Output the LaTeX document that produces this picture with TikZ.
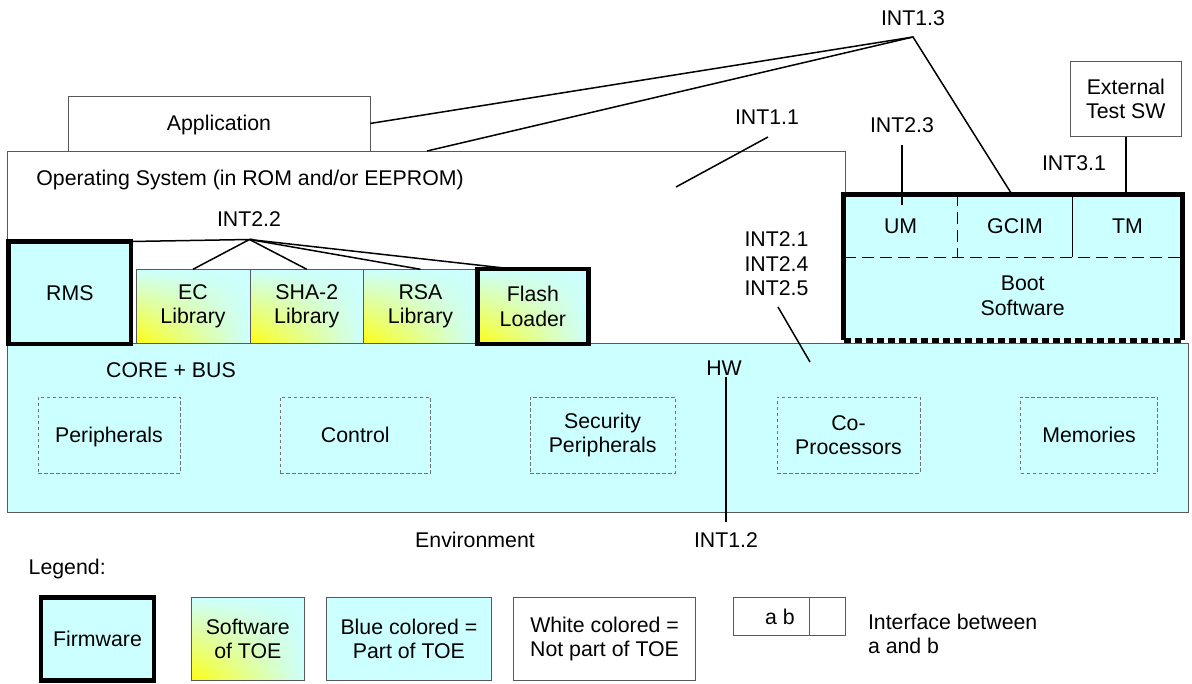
\documentclass[tikz,border=0pt]{standalone}
\usepackage{fontspec}
\setmainfont{Liberation Sans}
\usetikzlibrary{calc,shadings}
\definecolor{toecyan}{HTML}{CCFFFF}
\definecolor{toeyellow}{HTML}{FFFF10}
\begin{document}
\begin{tikzpicture}[x=1pt,y=-1pt,
  font=\fontsize{21.3}{24.5}\selectfont,
  every node/.style={inner sep=0pt,outer sep=0pt},
  box/.style={rectangle,anchor=north west,align=center,draw=black!65,line width=0.9pt},
  partbox/.style={box,fill=toecyan},
  whitebox/.style={box,fill=white},
  swbox/.style={box,shade,upper left=toecyan,upper right=toecyan,lower right=toecyan,lower left=toeyellow},
  fwbox/.style={box,draw=black,line width=4.5pt,fill=toecyan},
  hwpart/.style={box,draw=black!55,line width=0.8pt,dash pattern=on 3.5pt off 2.5pt},
  oneline/.style={text height=15pt,text depth=0pt},
  lbl/.style={align=center},
  link/.style={draw=black,line width=1.5pt},
  sublink/.style={draw=black,line width=1.3pt},
]
\useasboundingbox (0,0) rectangle (1192,684);

% software layers outside the TOE
\node[whitebox,oneline,minimum width=302pt,minimum height=55pt] (app) at (68,96) {Application};
\node[whitebox,minimum width=838pt,minimum height=192pt] (os) at (7.7,151) {};
\node[oneline,anchor=west] (oslbl) at (36.4,178) {Operating System (in ROM and/or EEPROM)};

% hardware block
\node[partbox,minimum width=1180.4pt,minimum height=169pt] (hw) at (7.6,343) {};
\node[oneline] (corebus) at (171,370) {CORE + BUS};
\node[hwpart,oneline,minimum width=142pt,minimum height=76pt] (periph) at (38,397) {Peripherals};
\node[hwpart,oneline,minimum width=150.6pt,minimum height=76pt] (control) at (280,397) {Control};
\node[hwpart,minimum width=145.3pt,minimum height=76pt] (secperiph) at (530,397) {Security\\Peripherals};
\node[hwpart,minimum width=143pt,minimum height=76pt] (coproc) at (777,397) {Co-\\Processors};
\node[hwpart,oneline,minimum width=137pt,minimum height=76pt] (mem) at (1020.5,397) {Memories};

% boot software with its modules
\node[box,draw=none,fill=toecyan,minimum width=339pt,minimum height=146pt] (boot) at (843.5,194.5) {};
\node[oneline,anchor=north west,minimum width=114.2pt,minimum height=62.8pt] (um) at (843.5,194.5) {UM};
\node[oneline,anchor=north west,minimum width=114.6pt,minimum height=62.8pt] (gcim) at (957.7,194.5) {GCIM};
\node[oneline,anchor=north west,minimum width=110.2pt,minimum height=62.8pt] (tm) at (1072.3,194.5) {TM};
\node[lbl] (bootsw) at (1022.7,296) {Boot\\Software};
\draw[sublink,dash pattern=on 12pt off 6pt] (um.south west) -- (tm.south east);
\draw[sublink,dash pattern=on 12pt off 6pt] (um.north east) -- (um.south east);
\draw[sublink] (gcim.north east) -- (gcim.south east);
\draw[line width=4.5pt,line join=miter] (boot.south west) -- (boot.north west) -- (boot.north east) -- (boot.south east);
\draw[line width=4.5pt,dash pattern=on 7pt off 4pt] (boot.south west) -- (boot.south east);

% firmware and libraries
\node[fwbox,oneline,minimum width=122.4pt,minimum height=102.5pt] (rms) at (8.6,241.5) {RMS};
\node[swbox,minimum width=114pt,minimum height=74pt] (ec) at (136,269.3) {EC\\Library};
\node[swbox,minimum width=113.6pt,minimum height=74pt] (sha) at (250,269.3) {SHA-2\\Library};
\node[swbox,minimum width=113.8pt,minimum height=74pt] (rsa) at (363.6,269.3) {RSA\\Library};
\node[swbox,draw=black,line width=4.5pt,minimum width=111pt,minimum height=75pt] (flash) at (477.4,269) {Flash\\Loader};

% external test software
\node[whitebox,minimum width=111.7pt,minimum height=75.7pt] (ext) at (1070,61) {External\\Test SW};
\node[oneline] (int31) at (1074,163) {INT3.1};
\draw[link] (ext.south) -- (ext.south |- tm.north);

% interface INT1.3
\node[oneline] (int13) at (913,18) {INT1.3};
\coordinate (int13c) at (913,37);
\coordinate (osjoin) at (427,151);
\coordinate (gcimjoin) at (1012,194.5);
\draw[link] (app.east) -- (int13c) -- (gcimjoin);
\draw[link] (osjoin) -- (int13c);

% interface INT1.1
\node[oneline] (int11) at (767,117) {INT1.1};
\coordinate (int11a) at (768,137);
\coordinate (int11b) at (676,187);
\draw[link] (int11a) -- (int11b);

% interfaces INT2.1, INT2.4, INT2.5
\node[lbl] (int2x) at (776.5,264) {INT2.1\\INT2.4\\INT2.5};
\coordinate (int2xa) at (778,307);
\coordinate (int2xb) at (810,362);
\draw[link] (int2xa) -- (int2xb);

% interface INT2.3
\node[oneline] (int23) at (902,125) {INT2.3};
\coordinate (int23a) at (902,145);
\coordinate (int23b) at (902,205);
\draw[link] (int23a) -- (int23b);

% interface INT2.2
\node[oneline] (int22) at (249,219) {INT2.2};
\coordinate (int22c) at (249.5,239.5);
\coordinate (flashjoin) at ($(flash.north west)!0.32!(flash.north east)$);
\draw[link] (rms.north east) -- (int22c) -- (ec.north);
\draw[link] (int22c) -- (sha.north);
\draw[link] (int22c) -- (rsa.north);
\draw[link] (int22c) -- (flashjoin);

% interface INT1.2 to the environment
\node[oneline] (hwlbl) at (724,368) {HW};
\coordinate (int12a) at (726,377);
\coordinate (int12b) at (726,522);
\draw[line width=1.2pt] (int12a) -- (int12b);
\node[oneline] (int12) at (726,540) {INT1.2};
\node[oneline] (env) at (475,540) {Environment};

% legend
\node[oneline,anchor=west] (legend) at (28.7,567) {Legend:};
\node[fwbox,oneline,minimum width=113pt,minimum height=83pt] (lgfw) at (41,597.5) {Firmware};
\node[swbox,minimum width=112.8pt,minimum height=83.4pt] (lgsw) at (191.4,597.3) {Software\\of TOE};
\node[partbox,minimum width=165.8pt,minimum height=83.4pt] (lgpart) at (326,597.3) {Blue colored =\\Part of TOE};
\node[whitebox,minimum width=181.9pt,minimum height=83.4pt] (lgwhite) at (513.6,597.3) {White colored =\\Not part of TOE};
\node[whitebox,minimum width=76.6pt,minimum height=38pt] (lgifa) at (733.3,597.3) {};
\node[whitebox,minimum width=35.5pt,minimum height=38pt] (lgifb) at (809.9,597.3) {};
\node[oneline] (lgab) at (780,617) {a b};
\node[anchor=west,align=left] (lgiftext) at (868,634) {Interface between\\a and b};
\end{tikzpicture}
\end{document}
